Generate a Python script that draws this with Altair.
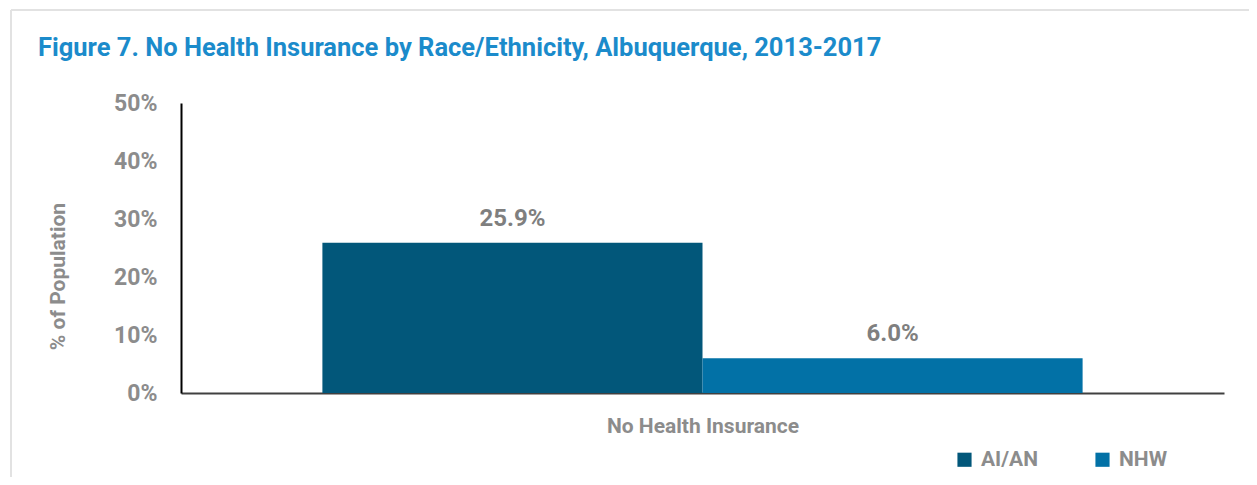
import altair as alt
import pandas as pd

title_text = "Figure 7. No Health Insurance by Race/Ethnicity, Albuquerque, 2013-2017"
category = ["No Health Insurance", "No Health Insurance"]
groups = ["AI/AN", "NHW"]
values = [25.9, 6.0]
labels = ["25.9%", "6.0%"]
colors = ["#02577A", "#0271A6"]

df = pd.DataFrame({"cat": category, "group": groups, "value": values, "label": labels})

FONT = "Roboto"
GRAY = "#8C8C8C"

x = alt.X("cat:N", title="No Health Insurance",
          scale=alt.Scale(paddingInner=0, paddingOuter=0.186),
          axis=alt.Axis(labels=False, ticks=False, domainColor="#404040", domainWidth=2,
                        titleFont=FONT, titleFontSize=21, titleColor=GRAY, titleFontWeight="bold",
                        titlePadding=22))
xo = alt.XOffset("group:N", scale=alt.Scale(paddingInner=0, paddingOuter=0))

bars = alt.Chart(df).mark_bar().encode(
    x=x, xOffset=xo,
    y=alt.Y("value:Q", title="% of Population",
            scale=alt.Scale(domain=[0, 50]),
            axis=alt.Axis(values=[0, 10, 20, 30, 40, 50], labelExpr="datum.value + '%'",
                          grid=False, ticks=False, domainColor="#000000", domainWidth=2,
                          labelFont=FONT, labelFontSize=23, labelColor=GRAY, labelFontWeight="bold",
                          labelPadding=24,
                          titleFont=FONT, titleFontSize=21, titleColor=GRAY, titleFontWeight="bold",
                          titlePadding=45, titleY=173)),
    color=alt.Color("group:N", scale=alt.Scale(domain=groups, range=colors),
                    legend=alt.Legend(title=None, orient="none", legendX=773, legendY=346,
                                      direction="horizontal", symbolType="square", symbolSize=200,
                                      symbolStrokeWidth=0, labelFont=FONT, labelFontSize=21,
                                      labelColor=GRAY, labelFontWeight="bold", columnPadding=54,
                                      labelOffset=6))
)

text = alt.Chart(df).mark_text(font=FONT, fontSize=24, fontWeight="bold", color="#7F7F7F", dy=-24).encode(
    x=x, xOffset=xo, y="value:Q", text="label:N"
)

title_df = pd.DataFrame({"t": [title_text]})
title = alt.Chart(title_df).mark_text(font=FONT, fontSize=25.5, fontWeight="bold", color="#1B8BCB",
                                      align="left", baseline="alphabetic").encode(
    text="t:N", x=alt.value(-143), y=alt.value(-47)
)

border_top = alt.Chart(df).mark_rule(color="#E2E2E2", strokeWidth=2).encode(
    x=alt.value(-170), x2=alt.value(1100), y=alt.value(-93)
)
border_left = alt.Chart(df).mark_rule(color="#E2E2E2", strokeWidth=2).encode(
    x=alt.value(-170), y=alt.value(-93), y2=alt.value(400)
)

chart = alt.layer(border_top, border_left, title, bars, text).properties(
    width=1043, height=290,
    autosize=alt.AutoSizeParams(type="none"),
    padding={"left": 173, "top": 95, "right": 25, "bottom": 84},
).configure(background="white").configure_view(stroke=None, strokeWidth=0)

chart.save("out.html", embed_options={"renderer": "svg", "actions": False})
